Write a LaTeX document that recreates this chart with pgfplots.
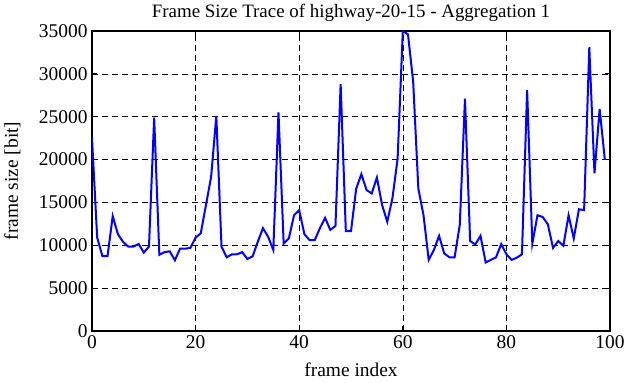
\documentclass[border=0pt]{standalone}
\usepackage{pgfplots}
\pgfplotsset{compat=1.18}
\usepackage{fontspec}
\setmainfont{Liberation Serif}
\begin{document}
\begin{tikzpicture}[x=1bp,y=1bp]
\path[use as bounding box] (-92,-51) rectangle (534,331);
\begin{axis}[
  at={(0,0)}, anchor=south west,
  scale only axis, width=518bp, height=300bp,
  xmin=0, xmax=100, ymin=0, ymax=35000,
  xtick={0,20,...,100}, ytick={0,5000,...,35000},
  scaled ticks=false,
  /pgf/number format/assume math mode=true,
  /pgf/number format/set thousands separator={},
  tick label style={font=\fontsize{19.5}{22}\selectfont},
  label style={font=\fontsize{19.5}{22}\selectfont},
  title style={font=\fontsize{19}{22}\selectfont},
  title={Frame Size Trace of highway-20-15 - Aggregation 1},
  title style={at={(axis description cs:0.5,1)}, anchor=base, yshift=8bp},
  xlabel={frame index},
  ylabel={frame size [bit]},
  xlabel style={at={(axis description cs:0.5,0)}, anchor=base, yshift=-45bp},
  ylabel style={at={(axis description cs:0,0.5)}, anchor=base, yshift=74bp},
  tick align=inside, ticks=both, major tick length=5bp,
  xtick pos=both, ytick pos=both,
  axis line style={line width=1.4bp},
  major tick style={line width=1bp, black},
  grid=major,
  major grid style={black, line width=0.6bp, dash pattern=on 6bp off 4bp},
  xticklabel style={yshift=-1bp},
  yticklabel style={xshift=-1bp},
]
\addplot[color={rgb,255:red,0;green,0;blue,255}, line width=2bp, mark=none] coordinates {
(0,22500) (1,10900) (2,8750) (3,8750) (4,13400) (5,11300) (6,10400) (7,9850) (8,9850) (9,10150)
(10,9150) (11,9850) (12,24900) (13,8900) (14,9200) (15,9300) (16,8250) (17,9600) (18,9600) (19,9700)
(20,10900) (21,11400) (22,14700) (23,18000) (24,25100) (25,9850) (26,8600) (27,8950) (28,8950) (29,9200)
(30,8400) (31,8700) (32,10400) (33,12000) (34,11000) (35,9450) (36,25500) (37,10200) (38,10800) (39,13500)
(40,14100) (41,11300) (42,10600) (43,10600) (44,12000) (45,13200) (46,11800) (47,12250) (48,28800) (49,11650)
(50,11650) (51,16600) (52,18300) (53,16450) (54,16050) (55,17900) (56,14700) (57,12750) (58,15500) (59,20100)
(60,35000) (61,34600) (62,29100) (63,16600) (64,13500) (65,8300) (66,9450) (67,11100) (68,9050) (69,8600)
(70,8600) (71,12400) (72,27100) (73,10500) (74,10100) (75,11100) (76,8000) (77,8300) (78,8600) (79,10150)
(80,8950) (81,8300) (82,8550) (83,8950) (84,28100) (85,10200) (86,13500) (87,13300) (88,12450) (89,9700)
(90,10500) (91,9950) (92,13500) (93,10800) (94,14200) (95,14100) (96,33100) (97,18400) (98,25900) (99,20000)
};
\end{axis}
\end{tikzpicture}
\end{document}
